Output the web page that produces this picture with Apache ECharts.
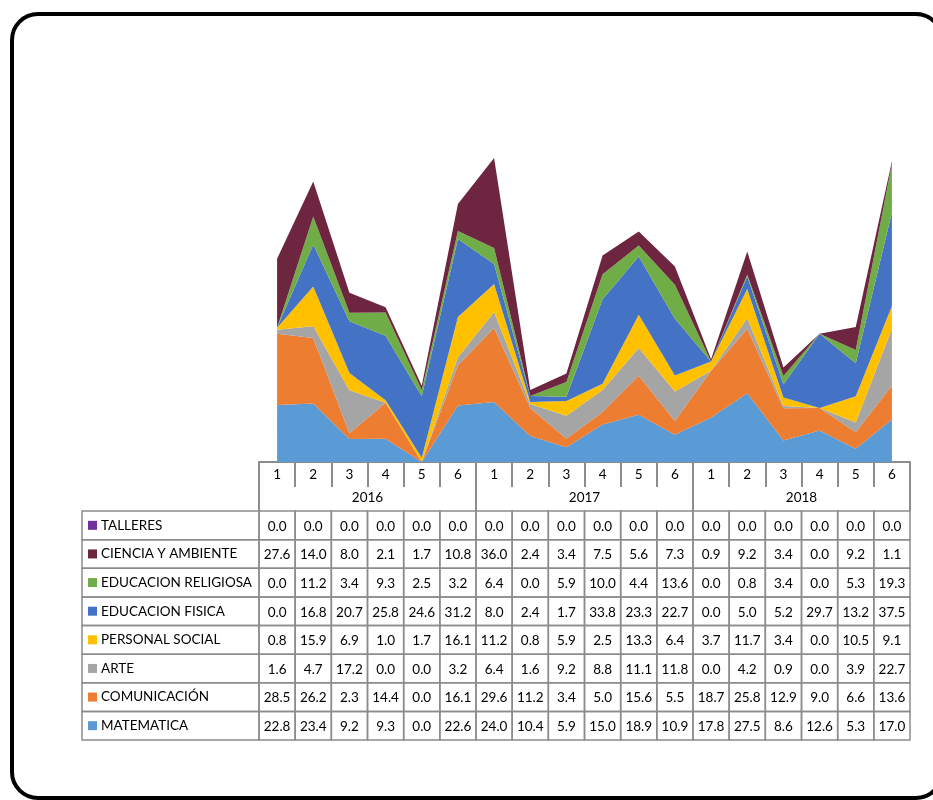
<!DOCTYPE html>
<html>
<head>
<meta charset="utf-8">
<title>Promedio por área curricular</title>
<script src="https://cdn.jsdelivr.net/npm/echarts@6/dist/echarts.min.js"></script>
<style>
  html, body { margin: 0; padding: 0; background: #ffffff; }
  #chart { width: 933px; height: 800px; }
</style>
</head>
<body>
<div id="chart"></div>
<script>
// Periods inside each school year, and the years themselves
const years = ['2016', '2017', '2018'];
const periods = ['1', '2', '3', '4', '5', '6'];

// Values per area, 6 periods for each year (2016, 2017, 2018)
const matematica   = [22.8, 23.4, 9.2, 9.3, 0.0, 22.6,  24.0, 10.4, 5.9, 15.0, 18.9, 10.9,  17.8, 27.5, 8.6, 12.6, 5.3, 17.0];
const comunicacion = [28.5, 26.2, 2.3, 14.4, 0.0, 16.1, 29.6, 11.2, 3.4, 5.0, 15.6, 5.5,    18.7, 25.8, 12.9, 9.0, 6.6, 13.6];
const arte         = [1.6, 4.7, 17.2, 0.0, 0.0, 3.2,    6.4, 1.6, 9.2, 8.8, 11.1, 11.8,     0.0, 4.2, 0.9, 0.0, 3.9, 22.7];
const personal     = [0.8, 15.9, 6.9, 1.0, 1.7, 16.1,   11.2, 0.8, 5.9, 2.5, 13.3, 6.4,     3.7, 11.7, 3.4, 0.0, 10.5, 9.1];
const fisica       = [0.0, 16.8, 20.7, 25.8, 24.6, 31.2, 8.0, 2.4, 1.7, 33.8, 23.3, 22.7,   0.0, 5.0, 5.2, 29.7, 13.2, 37.5];
const religiosa    = [0.0, 11.2, 3.4, 9.3, 2.5, 3.2,    6.4, 0.0, 5.9, 10.0, 4.4, 13.6,     0.0, 0.8, 3.4, 0.0, 5.3, 19.3];
const ciencia      = [27.6, 14.0, 8.0, 2.1, 1.7, 10.8,  36.0, 2.4, 3.4, 7.5, 5.6, 7.3,      0.9, 9.2, 3.4, 0.0, 9.2, 1.1];
const talleres     = [0.0, 0.0, 0.0, 0.0, 0.0, 0.0,     0.0, 0.0, 0.0, 0.0, 0.0, 0.0,       0.0, 0.0, 0.0, 0.0, 0.0, 0.0];

// Stack order, bottom to top
const areas = [
  { name: 'MATEMATICA',          data: matematica,   color: '#5B9BD5' },
  { name: 'COMUNICACIÓN',        data: comunicacion, color: '#ED7D31' },
  { name: 'ARTE',                data: arte,         color: '#A5A5A5' },
  { name: 'PERSONAL SOCIAL',     data: personal,     color: '#FFC000' },
  { name: 'EDUCACION FISICA',    data: fisica,       color: '#4472C4' },
  { name: 'EDUCACION RELIGIOSA', data: religiosa,    color: '#70AD47' },
  { name: 'CIENCIA Y AMBIENTE',  data: ciencia,      color: '#6E2540' },
  { name: 'TALLERES',            data: talleres,     color: '#7030A0' }
];

const FONT = 'Lato, "Liberation Sans", sans-serif';
const FONT_SIZE = 13.5;
const GRID_COLOR = '#8c8c8c';
const LABEL_COL = 177;   // width of the row-name column of the table

// One unique key per year/period so the category axis never merges duplicates
const categories = [];
years.forEach(y => periods.forEach(p => categories.push(y + '-' + p)));

// Table rows, top to bottom
const tableRows = areas.slice().reverse();
const tableData = [];
tableRows.forEach((a, r) => a.data.forEach((v, c) => tableData.push([c, r, v])));

const rich = { t: { fontFamily: FONT, fontSize: FONT_SIZE, color: '#000', padding: [0, 0, 0, 4] } };
tableRows.forEach((a, i) => {
  rich['k' + i] = { width: 9, height: 9, backgroundColor: a.color };
});

const chart = echarts.init(document.getElementById('chart'), null, { renderer: 'canvas' });

const option = {
  backgroundColor: '#ffffff',
  animation: false,
  textStyle: { fontFamily: FONT },
  grid: [
    { left: 259, right: 23, top: 112, bottom: 338 },
    { left: 259, right: 23, top: 511, bottom: 60 }
  ],
  xAxis: [
    {
      gridIndex: 0, type: 'category', data: categories, boundaryGap: true, position: 'bottom',
      axisLine: { show: true, lineStyle: { color: GRID_COLOR, width: 2 } },
      axisTick: { show: true, interval: 0, length: 25, lineStyle: { color: GRID_COLOR, width: 2 } },
      axisLabel: {
        interval: 0, margin: 6, fontFamily: FONT, fontSize: FONT_SIZE, color: '#000',
        formatter: v => v.split('-')[1]
      },
      splitLine: { show: false }
    },
    {
      gridIndex: 0, type: 'category', data: years, boundaryGap: true, position: 'bottom',
      axisLine: { show: false },
      axisTick: { show: true, interval: 0, length: 49, lineStyle: { color: GRID_COLOR, width: 2 } },
      axisLabel: { interval: 0, margin: 29, fontFamily: FONT, fontSize: FONT_SIZE, color: '#000' },
      splitLine: { show: false }
    },
    {
      gridIndex: 1, type: 'category', data: categories, boundaryGap: true, show: false
    }
  ],
  yAxis: [
    { gridIndex: 0, type: 'value', min: 0, max: 140, show: false },
    {
      gridIndex: 1, type: 'category', data: tableRows.map(a => a.name), inverse: true,
      axisLine: { show: false }, axisTick: { show: false }, splitLine: { show: false },
      axisLabel: {
        align: 'left', margin: LABEL_COL - 6, rich: rich,
        formatter: (v, i) => '{k' + i + '|}{t|' + v + '}'
      }
    }
  ],
  series: areas.map(a => ({
    name: a.name,
    type: 'line',
    xAxisIndex: 0,
    yAxisIndex: 0,
    stack: 'total',
    data: a.data,
    symbol: 'none',
    smooth: false,
    lineStyle: { width: 0 },
    areaStyle: { color: a.color, opacity: 1 },
    itemStyle: { color: a.color },
    z: 2
  })).concat([{
    name: 'tabla',
    type: 'custom',
    xAxisIndex: 2,
    yAxisIndex: 1,
    data: tableData,
    z: 1,
    renderItem: function (params, api) {
      const col = api.value(0);
      const row = api.value(1);
      const c = api.coord([col, row]);
      const s = api.size([1, 1]);
      const x = c[0] - s[0] / 2;
      const y = c[1] - s[1] / 2;
      const children = [
        {
          type: 'rect',
          shape: { x: x, y: y, width: s[0], height: s[1] },
          style: { fill: 'rgba(0,0,0,0)', stroke: GRID_COLOR, lineWidth: 1.5 }
        },
        {
          type: 'text',
          style: {
            x: c[0], y: c[1] + 1, text: api.value(2).toFixed(1),
            align: 'center', verticalAlign: 'middle',
            font: FONT_SIZE + 'px ' + FONT, fill: '#000'
          }
        }
      ];
      if (col === 0) {
        children.push({
          type: 'rect',
          shape: { x: params.coordSys.x - LABEL_COL, y: y, width: LABEL_COL, height: s[1] },
          style: { fill: 'rgba(0,0,0,0)', stroke: GRID_COLOR, lineWidth: 1.5 }
        });
      }
      return { type: 'group', children: children };
    }
  }]),
  graphic: [
    {
      type: 'rect',
      shape: { x: 12, y: 14, width: 930, height: 784, r: 26 },
      style: { fill: 'none', stroke: '#000', lineWidth: 4 },
      z: 100
    }
  ]
};

chart.setOption(option);
</script>
</body>
</html>
